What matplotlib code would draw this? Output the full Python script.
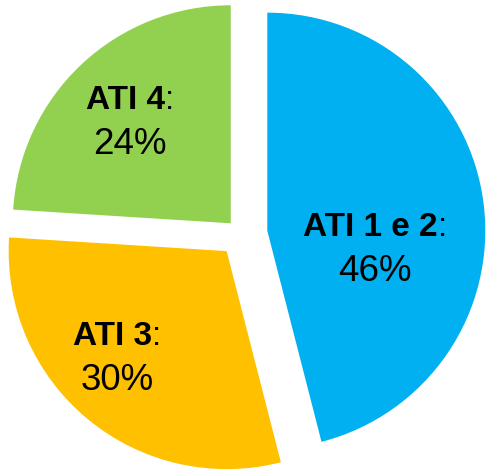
import matplotlib
matplotlib.use('Agg')
import matplotlib.pyplot as plt

plt.rcParams['font.family'] = ['Liberation Sans', 'DejaVu Sans']

# dati
categorie = ['ATI 1 e 2', 'ATI 3', 'ATI 4']
percentuali = [46, 30, 24]
colori = ['#00B0F0', '#FFC000', '#92D050']
esplosione = [26.7, 22.2, 14.7]  # distanza di ogni spicchio dal centro (pixel)

# posizione delle etichette: centro x, linea di base della prima riga (coord. pixel, y verso il basso)
pos_etichette = [(375, 236), (117, 345), (130, 109)]

W, H = 489, 471
fig = plt.figure(figsize=(W / 100, H / 100), dpi=100)
ax = fig.add_axes([0, 0, 1, 1])

ax.pie(percentuali, colors=colori, explode=esplosione, radius=218,
       center=(240.8, H - 234), startangle=90, counterclock=False,
       wedgeprops={'linewidth': 0}, frame=False)
ax.set_xlim(0, W)
ax.set_ylim(0, H)
ax.set_aspect('equal')
ax.axis('off')

fig.canvas.draw()
r = fig.canvas.get_renderer()

for nome, perc, (x, y) in zip(categorie, percentuali, pos_etichette):
    # nome in grassetto, due punti normali
    t1 = ax.text(0, H - y, nome, ha='left', va='baseline',
                 fontsize=24, fontweight='bold', color='black')
    t2 = ax.text(0, H - y, ':', ha='left', va='baseline',
                 fontsize=24, color='black')
    w1 = t1.get_window_extent(r).width
    w2 = t2.get_window_extent(r).width
    sx = x - (w1 + w2) / 2
    t1.set_x(sx)
    t2.set_x(sx + w1)
    ax.text(x, H - y - 45, '%d%%' % perc, ha='center', va='baseline',
            fontsize=26.5, color='black')

fig.savefig('out.png', dpi=100)
